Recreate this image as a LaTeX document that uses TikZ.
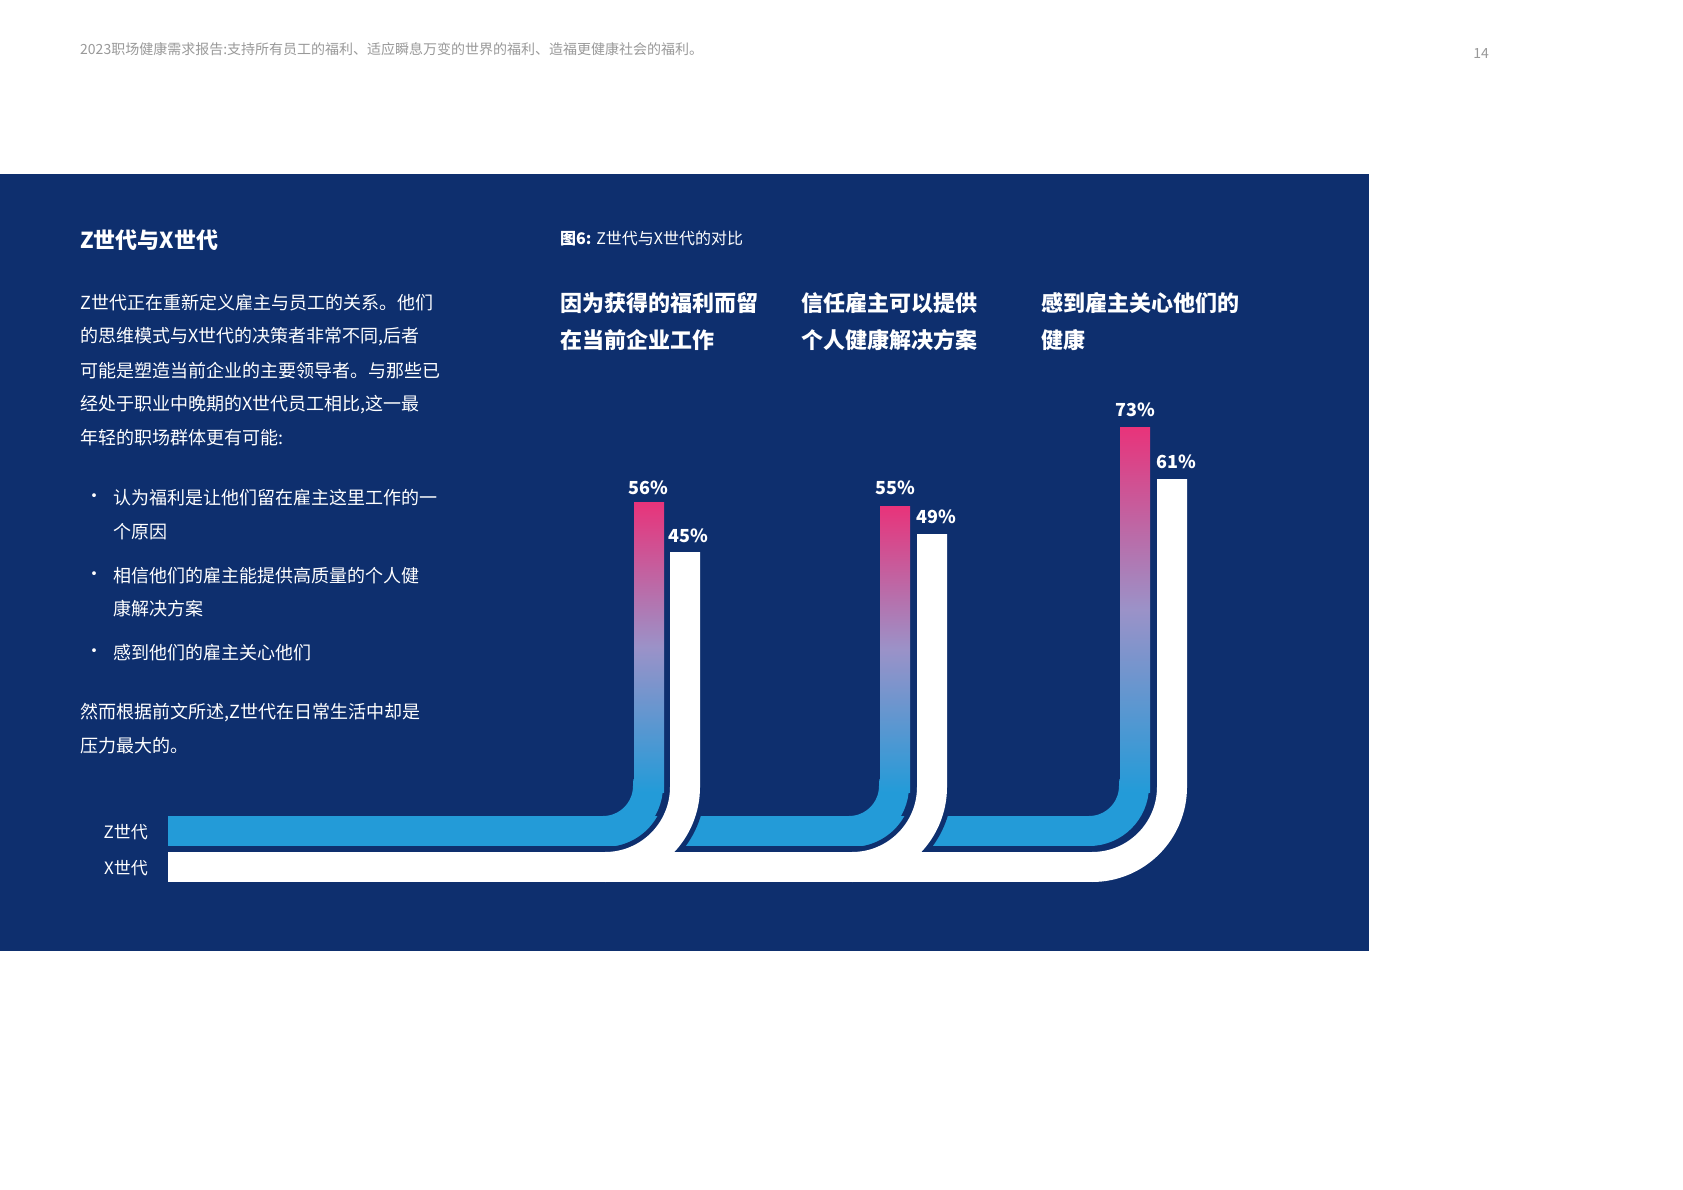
\documentclass[tikz,border=0pt]{standalone}
\usepackage{fontspec}
\setmainfont{Noto Sans CJK SC}
\begin{document}
\begin{tikzpicture}[x=1pt,y=-1pt,
  txt/.style={anchor=west,inner sep=0pt,text=white,font=\fontsize{18}{20}\selectfont},
  head/.style={anchor=west,inner sep=0pt,text=white,font=\fontsize{22}{24}\selectfont\bfseries},
  pct/.style={anchor=center,inner sep=0pt,text=white,font=\fontsize{18}{20}\selectfont\bfseries},
  zline/.style={draw=zblue,line width=30pt},
  xline/.style={draw=white,line width=30pt},
  xborder/.style={draw=navy,line width=40pt}]
\definecolor{navy}{HTML}{0E2F6E}
\definecolor{zblue}{HTML}{239BD8}
\definecolor{zpink}{HTML}{E8337A}
\definecolor{zmid}{HTML}{9B92C8}
\useasboundingbox (0,0) rectangle (1683,1190);
\fill[white] (0,0) rectangle (1683,1190);
\fill[navy] (0,174) rectangle (1369,951);
\node[anchor=west,inner sep=0pt,text=gray!80,font=\fontsize{14}{16}\selectfont] (hdr) at (80,49) {2023职场健康需求报告:支持所有员工的福利、适应瞬息万变的世界的福利、造福更健康社会的福利。};
\node[anchor=center,inner sep=0pt,text=gray!80,font=\fontsize{14}{16}\selectfont] (pg) at (1481,54) {14};
% left text
\node[head] (t) at (80,240) {Z世代与X世代};
\node[txt] (p1) at (80,303) {Z世代正在重新定义雇主与员工的关系。他们};
\node[txt] (p2) at (80,337) {的思维模式与X世代的决策者非常不同,后者};
\node[txt] (p3) at (80,371) {可能是塑造当前企业的主要领导者。与那些已};
\node[txt] (p4) at (80,405) {经处于职业中晚期的X世代员工相比,这一最};
\node[txt] (p5) at (80,438) {年轻的职场群体更有可能:};
\node[txt] (b1d) at (85,498) {·};
\node[txt] (b1a) at (113,498) {认为福利是让他们留在雇主这里工作的一};
\node[txt] (b1b) at (113,532) {个原因};
\node[txt] (b2d) at (85,576) {·};
\node[txt] (b2a) at (113,576) {相信他们的雇主能提供高质量的个人健};
\node[txt] (b2b) at (113,609) {康解决方案};
\node[txt] (b3d) at (85,653) {·};
\node[txt] (b3a) at (113,653) {感到他们的雇主关心他们};
\node[txt] (q1) at (80,713) {然而根据前文所述,Z世代在日常生活中却是};
\node[txt] (q2) at (80,746) {压力最大的。};
% chart headings
\node[anchor=west,inner sep=0pt,text=white,font=\fontsize{16}{18}\selectfont] (ct) at (560,239) {\textbf{图6:} Z世代与X世代的对比};
\node[head] (h1a) at (560,303) {因为获得的福利而留};
\node[head] (h1b) at (560,340) {在当前企业工作};
\node[head] (h2a) at (801,303) {信任雇主可以提供};
\node[head] (h2b) at (801,340) {个人健康解决方案};
\node[head] (h3a) at (1041,303) {感到雇主关心他们的};
\node[head] (h3b) at (1041,340) {健康};
\node[anchor=east,inner sep=0pt,text=white,font=\fontsize{17}{19}\selectfont] (lz) at (148,832) {Z世代};
\node[anchor=east,inner sep=0pt,text=white,font=\fontsize{17}{19}\selectfont] (lx) at (148,868) {X世代};
% Z horizontal
\draw[zline] (168,831) -- (1092,831);
% Z bars
\foreach \c/\tp in {649/502,895/506,1135/427}{
  \draw[zline] (\c-46,831) arc[start angle=90,end angle=0,radius=45] -- (\c,785);
  \shade[top color=zpink,bottom color=zblue,middle color=zmid] (\c-15,\tp) rectangle (\c+15,792);
}
% X bars borders
\foreach \c in {685,932}{
  \draw[xborder] (\c,790) -- (\c,787) arc[start angle=0,end angle=90,radius=80];
}
\draw[xline] (168,867) -- (1093,867);
\foreach \c/\tp in {685/552,932/534,1172/479}{
  \draw[xline] (\c,\tp) -- (\c,787) arc[start angle=0,end angle=90,radius=80];
}
% labels
\node[pct] (v1) at (648,488) {56\%};
\node[pct] (v2) at (688,536) {45\%};
\node[pct] (v3) at (895,488) {55\%};
\node[pct] (v4) at (936,517) {49\%};
\node[pct] (v5) at (1135,410) {73\%};
\node[pct] (v6) at (1176,462) {61\%};
\end{tikzpicture}
\end{document}
